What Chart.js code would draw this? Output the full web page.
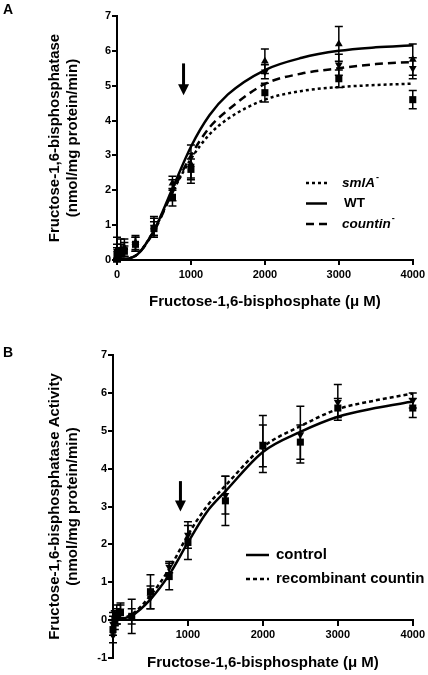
<!DOCTYPE html>
<html>
<head>
<meta charset="utf-8">
<script src="https://cdn.jsdelivr.net/npm/chart.js@4.4.0/dist/chart.umd.min.js"></script>
<style>
html, body { margin: 0; padding: 0; background: #fff; overflow: hidden; width: 428px; height: 675px; }
.panel { position: absolute; left: 0; width: 428px; }
#boxA { top: 0; height: 320px; }
#boxB { top: 330px; height: 388px; }
</style>
</head>
<body>
<div class="panel" id="boxA"><canvas id="chartA"></canvas></div>
<div class="panel" id="boxB"><canvas id="chartB"></canvas></div>
<script>
// ---- panel A : three strains ----
var xA = [0, 50, 100, 250, 500, 750, 1000, 2000, 3000, 4000]
var smlA = [0.15, 0.2, 0.25, 0.45, 0.9, 1.8, 2.6, 4.8, 5.2, 4.6]
var smlAErr = [0.2, 0.15, 0.15, 0.2, 0.2, 0.25, 0.3, 0.27, 0.25, 0.26]
var wt = [0.3, 0.3, 0.35, 0.5, 0.95, 2.2, 2.75, 5.7, 6.2, 5.75]
var wtErr = [0.35, 0.3, 0.25, 0.2, 0.3, 0.2, 0.55, 0.35, 0.5, 0.45]
var countin = [0.25, 0.25, 0.3, 0.45, 0.95, 2.0, 2.7, 5.4, 5.6, 5.5]
var countinErr = [0.2, 0.2, 0.2, 0.2, 0.25, 0.3, 0.35, 0.2, 0.3, 0.3]

// fitted curves
var fitX = [0, 250, 500, 750, 1000, 1250, 1500, 2000, 2500, 3000, 3500, 4000]
var fitSmlA = [0, 0.12, 0.85, 1.95, 2.9, 3.6, 4.05, 4.6, 4.85, 4.96, 5.02, 5.06]
var fitWt = [0, 0.12, 0.85, 2.05, 3.25, 4.15, 4.75, 5.45, 5.8, 6.0, 6.1, 6.16]
var fitCountin = [0, 0.12, 0.82, 1.95, 3.0, 3.8, 4.3, 5.05, 5.35, 5.5, 5.62, 5.68]

// ---- panel B : control vs recombinant countin ----
var xB = [0, 25, 50, 100, 250, 500, 750, 1000, 1500, 2000, 2500, 3000, 4000]
var control = [-0.25, 0.0, 0.1, 0.2, 0.1, 0.75, 1.15, 2.05, 3.15, 4.6, 4.7, 5.6, 5.6]
var controlErr = [0.35, 0.25, 0.2, 0.2, 0.45, 0.45, 0.35, 0.45, 0.65, 0.55, 0.45, 0.25, 0.25]
var recomb = [-0.1, 0.05, 0.15, 0.25, 0.1, 0.6, 1.4, 2.25, 3.3, 4.65, 4.9, 5.75, 5.8]
var recombErr = [0.3, 0.2, 0.25, 0.2, 0.2, 0.3, 0.15, 0.35, 0.5, 0.75, 0.75, 0.47, 0.2]
var fitControl = [0, 0.12, 0.55, 1.2, 2.05, 2.85, 3.4, 4.44, 4.97, 5.37, 5.6, 5.77]
var fitRecomb = [0, 0.15, 0.65, 1.35, 2.25, 3.0, 3.55, 4.57, 5.12, 5.57, 5.8, 5.98]

var xTicks = [0, 1000, 2000, 3000, 4000]
var yTicksA = [0, 1, 2, 3, 4, 5, 6, 7]
var yTicksB = [-1, 0, 1, 2, 3, 4, 5, 6, 7]

var FONT = 'Arial, "Liberation Sans", sans-serif'
Chart.defaults.font.family = FONT
Chart.defaults.color = '#000'

function pts(xs, ys) {
  return xs.map(function(x, i) { return {x: x, y: ys[i]} })
}

function curve(xs, ys, dash) {
  return {
    type: 'line', data: pts(xs, ys), borderColor: '#000', borderWidth: 2.5,
    borderDash: dash, pointRadius: 0, cubicInterpolationMode: 'monotone', clip: false
  }
}

function markers(xs, ys, errs, style, rot) {
  return {
    type: 'scatter', data: pts(xs, ys), errs: errs, pointStyle: style,
    pointRotation: rot || 0, pointRadius: style == 'rect' ? 5 : 4.5,
    backgroundColor: '#000', borderColor: '#000', borderWidth: 0, clip: false
  }
}

// vertical error bars with caps
var errorBars = {
  id: 'errorBars',
  beforeDatasetsDraw: function(chart) {
    var ctx = chart.ctx, xs = chart.scales.x, ys = chart.scales.y
    ctx.save()
    ctx.strokeStyle = '#000'
    ctx.lineWidth = 1.5
    chart.data.datasets.forEach(function(ds) {
      if (!ds.errs) return
      ds.data.forEach(function(p, i) {
        var px = xs.getPixelForValue(p.x)
        var top = ys.getPixelForValue(p.y + ds.errs[i])
        var bot = ys.getPixelForValue(p.y - ds.errs[i])
        ctx.beginPath()
        ctx.moveTo(px, top); ctx.lineTo(px, bot)
        ctx.moveTo(px - 4, top); ctx.lineTo(px + 4, top)
        ctx.moveTo(px - 4, bot); ctx.lineTo(px + 4, bot)
        ctx.stroke()
      })
    })
    ctx.restore()
  }
}

// the downward arrow marking ~900 uM
function arrowMark(xv, from, to) {
  return {
    id: 'arrowMark',
    afterDatasetsDraw: function(chart) {
      var ctx = chart.ctx
      var x = chart.scales.x.getPixelForValue(xv)
      var y1 = chart.scales.y.getPixelForValue(from)
      var y2 = chart.scales.y.getPixelForValue(to)
      ctx.save()
      ctx.strokeStyle = '#000'; ctx.fillStyle = '#000'; ctx.lineWidth = 3
      ctx.beginPath(); ctx.moveTo(x, y1); ctx.lineTo(x, y2 - 8); ctx.stroke()
      ctx.beginPath(); ctx.moveTo(x - 5.5, y2 - 11); ctx.lineTo(x + 5.5, y2 - 11); ctx.lineTo(x, y2); ctx.closePath(); ctx.fill()
      ctx.restore()
    }
  }
}

// legend drawn inside the plot + panel letter
function panelText(o) {
  return {
    id: 'panelText',
    afterDraw: function(chart) {
      var ctx = chart.ctx
      ctx.save()
      ctx.fillStyle = '#000'; ctx.strokeStyle = '#000'
      ctx.textBaseline = 'middle'; ctx.textAlign = 'left'
      ctx.font = 'bold 14px ' + FONT
      ctx.fillText(o.letter, 3, o.letterY)
      o.items.forEach(function(it, i) {
        var y = o.y + i * o.rowGap
        ctx.lineWidth = 2.5
        ctx.setLineDash(it.dash)
        ctx.beginPath(); ctx.moveTo(o.x, y); ctx.lineTo(o.x + o.sample, y); ctx.stroke()
        ctx.setLineDash([])
        ctx.font = (it.italic ? 'italic ' : '') + 'bold ' + o.size + 'px ' + FONT
        var tx = o.x + o.sample + o.gap + (it.shift || 0)
        ctx.fillText(it.text, tx, y)
        if (it.sup) {
          var w = ctx.measureText(it.text).width
          ctx.font = 'bold 9px ' + FONT
          ctx.fillText(it.sup, tx + w + 1, y - 5)
        }
      })
      ctx.restore()
    }
  }
}

function xScale(pos, titlePad) {
  return {
    type: 'linear', axis: 'x', position: pos, min: 0, max: 4000,
    afterBuildTicks: function(s) { s.ticks = xTicks.map(function(v) { return {value: v} }) },
    ticks: {font: {size: 11, weight: 'bold'}, padding: 3, maxRotation: 0, callback: function(v) { return String(v) }},
    grid: {drawOnChartArea: false, tickLength: 5, color: '#000', lineWidth: 2},
    border: {color: '#000', width: 2},
    title: {display: true, text: 'Fructose-1,6-bisphosphate (\u03bc M)', font: {size: 15, weight: 'bold'}, padding: {top: 0, bottom: titlePad}},
    afterFit: function(s) { s.height = 60 }
  }
}

function yScale(min, max, ticks, title) {
  return {
    type: 'linear', min: min, max: max,
    afterBuildTicks: function(s) { s.ticks = ticks.map(function(v) { return {value: v} }) },
    ticks: {font: {size: 11, weight: 'bold'}, padding: 1, callback: function(v) { return String(v) }},
    grid: {drawOnChartArea: false, tickLength: 5, color: '#000', lineWidth: 2},
    border: {color: '#000', width: 2},
    title: {display: true, text: title, font: {size: 15, weight: 'bold', lineHeight: 1.2}, padding: {top: 46, bottom: 0}},
    afterFit: function(s) { s.width = (min < 0 ? 113 : 117) }
  }
}

new Chart(document.getElementById('chartA'), {
  data: {
    datasets: [
      curve(fitX, fitSmlA, [3, 3]),
      curve(fitX, fitWt, []),
      curve(fitX, fitCountin, [8, 5]),
      markers(xA, smlA, smlAErr, 'rect'),
      markers(xA, countin, countinErr, 'triangle', 180),
      markers(xA, wt, wtErr, 'triangle')
    ]
  },
  options: {
    responsive: true, maintainAspectRatio: false, animation: false, devicePixelRatio: 1,
    layout: {padding: {top: 16, right: 14, left: 0, bottom: 0}},
    scales: {
      x: xScale('bottom', 9),
      y: yScale(0, 7, yTicksA, ['Fructose-1,6-bisphosphatase', '(nmol/mg protein/min)'])
    },
    plugins: {legend: {display: false}, tooltip: {enabled: false}}
  },
  plugins: [
    errorBars,
    arrowMark(900, 5.64, 4.73),
    panelText({
      letter: 'A', letterY: 10, x: 306, y: 183, rowGap: 20.5, sample: 21, gap: 15, size: 13.5,
      items: [
        {text: 'smlA', sup: '-', italic: true, dash: [3, 3]},
        {text: 'WT', italic: false, dash: [], shift: 2},
        {text: 'countin', sup: '-', italic: true, dash: [8, 5]}
      ]
    })
  ]
})

new Chart(document.getElementById('chartB'), {
  data: {
    datasets: [
      curve(fitX, fitControl, []),
      curve(fitX, fitRecomb, [4, 3]),
      markers(xB, control, controlErr, 'rect'),
      markers(xB, recomb, recombErr, 'triangle', 180)
    ]
  },
  options: {
    responsive: true, maintainAspectRatio: false, animation: false, devicePixelRatio: 1,
    layout: {padding: {top: 25, right: 14, left: 0, bottom: 60}},
    scales: {
      x: xScale({y: 0}, 8),
      y: yScale(-1, 7, yTicksB, ['Fructose-1,6-bisphosphatase Activity', '(nmol/mg protein/min)'])
    },
    plugins: {legend: {display: false}, tooltip: {enabled: false}}
  },
  plugins: [
    errorBars,
    arrowMark(900, 3.67, 2.87),
    panelText({
      letter: 'B', letterY: 23, x: 246, y: 225, rowGap: 24, sample: 23, gap: 7, size: 15,
      items: [
        {text: 'control', italic: false, dash: []},
        {text: 'recombinant countin', italic: false, dash: [4, 3]}
      ]
    })
  ]
})
</script>
</body>
</html>
